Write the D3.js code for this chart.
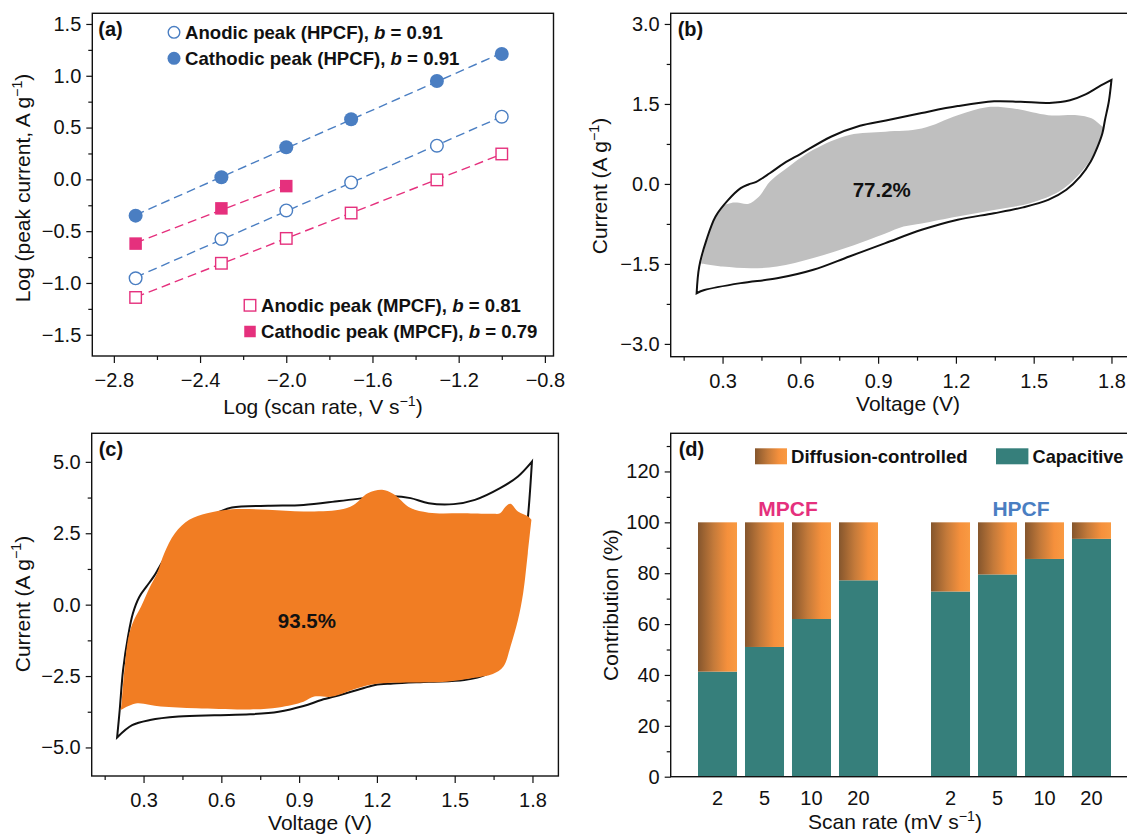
<!DOCTYPE html>
<html><head><meta charset="utf-8">
<script src="https://cdn.jsdelivr.net/npm/d3@7"></script>
<style>body{margin:0;background:#fff;} svg{display:block;}</style>
</head><body>
<svg id="chart" width="1127" height="834"></svg>
<script>
// ================= DATA =================
// Panel (a): log peak current vs log scan rate
const logScanRate   = [-2.699, -2.301, -2.0, -1.699, -1.301, -1.0];
const cathodicHPCF  = [-0.35, 0.02, 0.31, 0.58, 0.95, 1.21];
const anodicHPCF    = [-0.955, -0.575, -0.30, -0.03, 0.325, 0.605];
const anodicMPCF    = [-1.14, -0.81, -0.57, -0.325, -0.005, 0.245];
const cathodicMPCF  = [-0.62, -0.28, -0.065];
const legendTop     = ["Anodic peak (HPCF), ", "Cathodic peak (HPCF), "];
const legendTopB    = ["0.91", "0.91"];
const legendBottom  = ["Anodic peak (MPCF), ", "Cathodic peak (MPCF), "];
const legendBottomB = ["0.81", "0.79"];
const aXTicks = [-2.8, -2.4, -2.0, -1.6, -1.2, -0.8];
const aXMinor = [-2.6, -2.2, -1.8, -1.4, -1.0];
const aYTicks = [-1.5, -1.0, -0.5, 0.0, 0.5, 1.0, 1.5];
const aYMinor = [-1.25, -0.75, -0.25, 0.25, 0.75, 1.25];

// Panel (b): MPCF CV, total (black) and capacitive (grey)
const bTotFwdV = [0.20, 0.21, 0.238, 0.273, 0.322, 0.37, 0.40, 0.43, 0.482, 0.538, 0.60, 0.72, 0.83, 0.93, 1.068, 1.207, 1.347, 1.45, 1.56, 1.64, 1.70, 1.75, 1.80];
const bTotFwdI = [-2.05, -1.55, -1.05, -0.61, -0.30, -0.08, -0.01, 0.04, 0.20, 0.39, 0.56, 0.89, 1.09, 1.19, 1.33, 1.46, 1.55, 1.54, 1.52, 1.57, 1.68, 1.82, 1.95];
const bTotRevV = [1.79, 1.775, 1.765, 1.745, 1.72, 1.68, 1.626, 1.556, 1.459, 1.347, 1.207, 1.068, 0.928, 0.789, 0.65, 0.51, 0.37, 0.23, 0.20];
const bTotRevI = [1.55, 1.20, 0.95, 0.68, 0.42, 0.14, -0.11, -0.30, -0.44, -0.55, -0.67, -0.86, -1.11, -1.36, -1.61, -1.77, -1.86, -1.99, -2.05];
const bCapFwdV = [0.217, 0.24, 0.27, 0.30, 0.33, 0.356, 0.398, 0.44, 0.482, 0.538, 0.65, 0.789, 0.928, 1.068, 1.207, 1.319, 1.416, 1.556, 1.668, 1.723, 1.772];
const bCapFwdI = [-1.49, -1.05, -0.65, -0.42, -0.36, -0.35, -0.375, -0.24, 0.04, 0.26, 0.64, 0.92, 0.98, 1.04, 1.29, 1.44, 1.42, 1.29, 1.29, 1.23, 1.04];
const bCapRevV = [1.751, 1.71, 1.654, 1.598, 1.486, 1.347, 1.207, 1.068, 0.998, 0.928, 0.789, 0.65, 0.51, 0.412, 0.30, 0.217];
const bCapRevI = [0.76, 0.39, 0.075, -0.14, -0.36, -0.49, -0.61, -0.74, -0.80, -0.93, -1.18, -1.39, -1.55, -1.58, -1.55, -1.49];
const bPercent = "77.2%";

// Panel (c): HPCF CV, total (black) and capacitive (orange)
const cTotFwdV = [0.198, 0.208, 0.221, 0.24, 0.259, 0.284, 0.311, 0.339, 0.36, 0.40, 0.45, 0.52, 0.58, 0.641, 0.78, 0.917, 1.055, 1.151, 1.262, 1.33, 1.40, 1.496, 1.578, 1.675, 1.744, 1.798];
const cTotFwdI = [-4.65, -3.69, -2.29, -1.12, -0.30, 0.28, 0.63, 0.98, 1.30, 1.90, 2.50, 2.95, 3.20, 3.40, 3.46, 3.49, 3.63, 3.73, 3.80, 3.73, 3.55, 3.52, 3.67, 4.08, 4.49, 5.01];
const cTotRevV = [1.785, 1.765, 1.745, 1.705, 1.665, 1.62, 1.537, 1.40, 1.262, 1.193, 1.124, 1.055, 0.986, 0.917, 0.821, 0.711, 0.573, 0.435, 0.325, 0.256, 0.198];
const cTotRevI = [3.32, 1.50, 0.00, -1.20, -2.10, -2.45, -2.64, -2.70, -2.76, -2.81, -2.99, -3.17, -3.34, -3.55, -3.75, -3.84, -3.87, -3.92, -4.04, -4.22, -4.65];
const cCapFwdV = [0.212, 0.215, 0.226, 0.242, 0.263, 0.29, 0.325, 0.352, 0.38, 0.421, 0.476, 0.545, 0.641, 0.78, 0.917, 1.055, 1.11, 1.165, 1.22, 1.262, 1.33, 1.40, 1.537, 1.647, 1.675, 1.696, 1.715, 1.744, 1.785, 1.796];
const cCapFwdI = [-3.69, -3.46, -2.29, -1.12, -0.54, -0.07, 0.63, 1.10, 1.80, 2.50, 2.97, 3.20, 3.34, 3.32, 3.26, 3.32, 3.49, 3.90, 4.02, 3.88, 3.38, 3.22, 3.20, 3.18, 3.20, 3.43, 3.53, 3.26, 3.08, 2.97];
const cCapRevV = [1.782, 1.764, 1.744, 1.715, 1.688, 1.647, 1.564, 1.468, 1.33, 1.193, 1.124, 1.027, 0.958, 0.917, 0.821, 0.711, 0.504, 0.366, 0.27, 0.212];
const cCapRevI = [1.80, 0.40, -0.54, -1.47, -2.17, -2.43, -2.58, -2.70, -2.73, -2.78, -2.93, -3.22, -3.22, -3.40, -3.60, -3.67, -3.63, -3.57, -3.46, -3.69];
const cPercent = "93.5%";
const cvXTicks = [0.3, 0.6, 0.9, 1.2, 1.5, 1.8];
const cvXMinor = [0.15, 0.45, 0.75, 1.05, 1.35, 1.65];
const bYTicks = [-3.0, -1.5, 0.0, 1.5, 3.0];
const bYMinor = [-2.25, -0.75, 0.75, 2.25];
const cYTicks = [-5.0, -2.5, 0.0, 2.5, 5.0];
const cYMinor = [-3.75, -1.25, 1.25, 3.75];

// Panel (d): contribution bars
const groups = ["MPCF", "HPCF"];
const scanRates = ["2", "5", "10", "20"];
const capacitiveMPCF = [41.3, 51.0, 62.0, 77.2];
const capacitiveHPCF = [72.8, 79.5, 85.6, 93.5];
const dYTicks = [0, 20, 40, 60, 80, 100, 120];
const dYMinor = [10, 30, 50, 70, 90, 110, 130];

// ================= STYLE =================
const FONT = 'Arial, "Liberation Sans", Helvetica, sans-serif';
const BLUE = "#4a7ec2", PINK = "#e5307d", GREY = "#bfbfbf", ORANGE = "#f17d23", TEAL = "#367f7b";
const svg = d3.select("#chart");
const defs = svg.append("defs");
const grad = defs.append("linearGradient").attr("id", "diff").attr("x1", "0%").attr("x2", "100%").attr("y1", "0%").attr("y2", "0%");
grad.append("stop").attr("offset", "0%").attr("stop-color", "#85562d");
grad.append("stop").attr("offset", "40%").attr("stop-color", "#c47a3a");
grad.append("stop").attr("offset", "75%").attr("stop-color", "#f5903c");
grad.append("stop").attr("offset", "100%").attr("stop-color", "#f99a42");

const fmt1 = d3.format(".1f");

function axis(g, scale, orient, pos, majors, minors, fmt) {
  const mk = orient === "bottom" ? d3.axisBottom : d3.axisLeft;
  const tr = orient === "bottom" ? `translate(0,${pos})` : `translate(${pos},0)`;
  const gm = g.append("g").attr("transform", tr)
    .call(mk(scale).tickValues(majors).tickSize(orient === "bottom" ? 7 : 6)
      .tickPadding(orient === "bottom" ? 10 : 5).tickFormat(fmt));
  gm.select(".domain").remove();
  gm.selectAll("line").attr("stroke", "#111").attr("stroke-width", 1.2);
  gm.selectAll("text").attr("font-size", 20).attr("font-family", FONT).attr("fill", "#111");
  if (minors) {
    const gn = g.append("g").attr("transform", tr)
      .call(mk(scale).tickValues(minors).tickSize(4).tickFormat(""));
    gn.select(".domain").remove();
    gn.selectAll("line").attr("stroke", "#111").attr("stroke-width", 1.2);
  }
}
function frameBox(g, l, t, r, b) {
  g.append("rect").attr("x", l).attr("y", t).attr("width", r - l).attr("height", b - t)
    .attr("fill", "none").attr("stroke", "#111").attr("stroke-width", 1.4);
}
function richText(g, x, y, parts, opts) {
  const t = g.append("text").attr("x", x).attr("y", y).attr("font-family", FONT)
    .attr("font-size", opts.size).attr("font-weight", opts.weight || "normal")
    .attr("text-anchor", opts.anchor || "start").attr("fill", opts.fill || "#111");
  if (opts.rotate) t.attr("transform", `rotate(-90,${x},${y})`);
  let shift = 0;
  parts.forEach(p => {
    const ts = t.append("tspan").text(p.t);
    if (p.italic) ts.attr("font-style", "italic");
    if (p.sup) { ts.attr("font-size", opts.size * 0.68).attr("dy", -opts.size * 0.4); shift = opts.size * 0.4; }
    else if (shift) { ts.attr("dy", shift); shift = 0; }
  });
  return t;
}
function panelLabel(g, x, y, s) {
  g.append("text").attr("x", x).attr("y", y).attr("font-family", FONT).attr("font-size", 20)
    .attr("font-weight", "bold").attr("fill", "#111").text(s);
}
function loopPath(xs, ys, fV, fI, rV, rI) {
  const line = d3.line().x(d => xs(d[0])).y(d => ys(d[1])).curve(d3.curveCatmullRom.alpha(0.5));
  const fwd = fV.map((v, i) => [v, fI[i]]);
  const rev = [fwd[fwd.length - 1]].concat(rV.map((v, i) => [v, rI[i]]));
  return line(fwd) + line(rev).replace(/^M/, "L") + "Z";
}

// ================= PANEL (a) =================
{
  const P = {l: 92.3, r: 553.5, t: 13.3, b: 356};
  const g = svg.append("g");
  const x = d3.scaleLinear().domain([-2.9, -0.76]).range([P.l, P.r]);
  const y = d3.scaleLinear().domain([-1.705, 1.603]).range([P.b, P.t]);
  frameBox(g, P.l, P.t, P.r, P.b);
  axis(g, x, "bottom", P.b, aXTicks, aXMinor, fmt1);
  axis(g, y, "left", P.l, aYTicks, aYMinor, fmt1);
  panelLabel(g, P.l + 6, P.t + 22.5, "(a)");

  const seriesList = [
    {vals: cathodicHPCF, color: BLUE, shape: "circle", filled: true},
    {vals: anodicHPCF, color: BLUE, shape: "circle", filled: false},
    {vals: anodicMPCF, color: PINK, shape: "square", filled: false},
    {vals: cathodicMPCF, color: PINK, shape: "square", filled: true}
  ];
  seriesList.forEach(s => {
    const xs = logScanRate.slice(0, s.vals.length);
    const mx = d3.mean(xs), my = d3.mean(s.vals);
    const slope = d3.sum(xs.map((v, i) => (v - mx) * (s.vals[i] - my))) / d3.sum(xs.map(v => (v - mx) * (v - mx)));
    const icpt = my - slope * mx;
    const x0 = d3.min(xs), x1 = d3.max(xs);
    g.append("line").attr("x1", x(x0)).attr("y1", y(icpt + slope * x0))
      .attr("x2", x(x1)).attr("y2", y(icpt + slope * x1))
      .attr("stroke", s.color).attr("stroke-width", 1.4).attr("stroke-dasharray", "9,5");
  });
  seriesList.forEach(s => {
    const pts = s.vals.map((v, i) => [logScanRate[i], v]);
    if (s.shape === "circle") {
      g.selectAll(null).data(pts).enter().append("circle")
        .attr("cx", d => x(d[0])).attr("cy", d => y(d[1])).attr("r", s.filled ? 7 : 6.3)
        .attr("fill", s.filled ? s.color : "#fff").attr("stroke", s.color).attr("stroke-width", s.filled ? 0 : 1.4);
    } else {
      const sz = s.filled ? 12.5 : 11.5;
      g.selectAll(null).data(pts).enter().append("rect")
        .attr("x", d => x(d[0]) - sz / 2).attr("y", d => y(d[1]) - sz / 2).attr("width", sz).attr("height", sz)
        .attr("fill", s.filled ? s.color : "#fff").attr("stroke", s.color).attr("stroke-width", s.filled ? 0 : 1.4);
    }
  });
  // legends
  const lg = [[174, 32.3, false], [174, 58.3, true]];
  lg.forEach((L, i) => {
    g.append("circle").attr("cx", L[0]).attr("cy", L[1]).attr("r", L[2] ? 6.5 : 5.8)
      .attr("fill", L[2] ? BLUE : "#fff").attr("stroke", BLUE).attr("stroke-width", L[2] ? 0 : 1.4);
    richText(g, 185, L[1] + 6.3, [{t: legendTop[i]}, {t: "b", italic: true}, {t: " = " + legendTopB[i]}], {size: 18.6, weight: "bold"});
  });
  const lb = [[250, 305.3, false], [250, 331.5, true]];
  lb.forEach((L, i) => {
    const sz = 11.5;
    g.append("rect").attr("x", L[0] - sz / 2).attr("y", L[1] - sz / 2).attr("width", sz).attr("height", sz)
      .attr("fill", L[2] ? PINK : "#fff").attr("stroke", PINK).attr("stroke-width", L[2] ? 0 : 1.4);
    richText(g, 261, L[1] + 6.5, [{t: legendBottom[i]}, {t: "b", italic: true}, {t: " = " + legendBottomB[i]}], {size: 18.6, weight: "bold"});
  });
  richText(g, 323, 414, [{t: "Log (scan rate, V s"}, {t: "\u22121", sup: true}, {t: ")"}], {size: 21, anchor: "middle"});
  richText(g, 30, 188, [{t: "Log (peak current, A g"}, {t: "\u22121", sup: true}, {t: ")"}], {size: 21, anchor: "middle", rotate: true});
}

// ================= PANEL (b) =================
{
  const P = {l: 670.7, r: 1137.4, t: 13.3, b: 356.7};
  const g = svg.append("g");
  const x = d3.scaleLinear().domain([0.1, 1.9]).range([P.l, P.r]);
  const y = d3.scaleLinear().domain([-3.24, 3.2]).range([P.b, P.t]);
  g.append("path").attr("d", loopPath(x, y, bCapFwdV, bCapFwdI, bCapRevV, bCapRevI)).attr("fill", GREY).attr("stroke", "none");
  g.append("path").attr("d", loopPath(x, y, bTotFwdV, bTotFwdI, bTotRevV, bTotRevI)).attr("fill", "none")
    .attr("stroke", "#111").attr("stroke-width", 2).attr("stroke-linejoin", "miter");
  frameBox(g, P.l, P.t, P.r, P.b);
  axis(g, x, "bottom", P.b, cvXTicks, cvXMinor, fmt1);
  axis(g, y, "left", P.l, bYTicks, bYMinor, fmt1);
  panelLabel(g, P.l + 7, P.t + 23, "(b)");
  g.append("text").attr("x", x(0.914)).attr("y", y(-0.24)).attr("text-anchor", "middle")
    .attr("font-family", FONT).attr("font-size", 20.5).attr("font-weight", "bold").attr("fill", "#111").text(bPercent);
  richText(g, 908, 411, [{t: "Voltage (V)"}], {size: 21, anchor: "middle"});
  richText(g, 607, 186, [{t: "Current (A g"}, {t: "\u22121", sup: true}, {t: ")"}], {size: 21, anchor: "middle", rotate: true});
}

// ================= PANEL (c) =================
{
  const P = {l: 91.7, r: 558.4, t: 433.3, b: 776};
  const g = svg.append("g");
  const x = d3.scaleLinear().domain([0.1, 1.9]).range([P.l, P.r]);
  const y = d3.scaleLinear().domain([-6, 6]).range([P.b, P.t]);
  g.append("path").attr("d", loopPath(x, y, cTotFwdV, cTotFwdI, cTotRevV, cTotRevI)).attr("fill", "none")
    .attr("stroke", "#111").attr("stroke-width", 2).attr("stroke-linejoin", "miter");
  g.append("path").attr("d", loopPath(x, y, cCapFwdV, cCapFwdI, cCapRevV, cCapRevI)).attr("fill", ORANGE).attr("stroke", "none");
  frameBox(g, P.l, P.t, P.r, P.b);
  axis(g, x, "bottom", P.b, cvXTicks, cvXMinor, fmt1);
  axis(g, y, "left", P.l, cYTicks, cYMinor, fmt1);
  panelLabel(g, P.l + 7, P.t + 22.5, "(c)");
  g.append("text").attr("x", x(0.93)).attr("y", y(-0.82)).attr("text-anchor", "middle")
    .attr("font-family", FONT).attr("font-size", 20.5).attr("font-weight", "bold").attr("fill", "#111").text(cPercent);
  richText(g, 320, 830, [{t: "Voltage (V)"}], {size: 21, anchor: "middle"});
  richText(g, 29.5, 604, [{t: "Current (A g"}, {t: "\u22121", sup: true}, {t: ")"}], {size: 21, anchor: "middle", rotate: true});
}

// ================= PANEL (d) =================
{
  const P = {l: 670.7, r: 1140, t: 433.3, b: 776.7};
  const g = svg.append("g");
  const y = d3.scaleLinear().domain([0, 135]).range([P.b, P.t]);
  const outer = d3.scaleBand().domain(groups).range([698, 1111]).paddingInner(0.2275).paddingOuter(0);
  const inner = d3.scaleBand().domain(scanRates).range([0, outer.bandwidth()]).paddingInner(0.17).paddingOuter(0);
  const bars = [];
  groups.forEach((grp, gi) => {
    const vals = gi === 0 ? capacitiveMPCF : capacitiveHPCF;
    scanRates.forEach((r, ri) => bars.push({grp, r, cap: vals[ri]}));
  });
  const bx = d => outer(d.grp) + inner(d.r);
  g.selectAll(".cap").data(bars).enter().append("rect")
    .attr("x", bx).attr("width", inner.bandwidth())
    .attr("y", d => y(d.cap)).attr("height", d => y(0) - y(d.cap)).attr("fill", TEAL);
  g.selectAll(".dif").data(bars).enter().append("rect")
    .attr("x", bx).attr("width", inner.bandwidth())
    .attr("y", y(100)).attr("height", d => y(d.cap) - y(100)).attr("fill", "url(#diff)");
  frameBox(g, P.l, P.t, P.r, P.b);
  axis(g, y, "left", P.l, dYTicks, dYMinor, d3.format("d"));
  g.selectAll(".xl").data(bars).enter().append("text")
    .attr("x", d => bx(d) + inner.bandwidth() / 2).attr("y", 805).attr("text-anchor", "middle")
    .attr("font-family", FONT).attr("font-size", 20).attr("fill", "#111").text(d => d.r);
  groups.forEach((grp, gi) => {
    g.append("text").attr("x", outer(grp) + outer.bandwidth() / 2).attr("y", y(100) - 6)
      .attr("text-anchor", "middle").attr("font-family", FONT).attr("font-size", 21).attr("font-weight", "bold")
      .attr("fill", gi === 0 ? PINK : BLUE).text(grp);
  });
  panelLabel(g, P.l + 8, P.t + 22.3, "(d)");
  g.append("rect").attr("x", 755).attr("y", 448.3).attr("width", 32).attr("height", 16).attr("fill", "url(#diff)");
  richText(g, 791, 463.3, [{t: "Diffusion-controlled"}], {size: 18.6, weight: "bold"});
  g.append("rect").attr("x", 996).attr("y", 448.3).attr("width", 32.4).attr("height", 16).attr("fill", TEAL);
  richText(g, 1032.5, 463.3, [{t: "Capacitive"}], {size: 18.2, weight: "bold"});
  richText(g, 895, 829, [{t: "Scan rate (mV s"}, {t: "\u22121", sup: true}, {t: ")"}], {size: 21, anchor: "middle"});
  richText(g, 618, 605, [{t: "Contribution (%)"}], {size: 21, anchor: "middle", rotate: true});
}
</script>
</body></html>
